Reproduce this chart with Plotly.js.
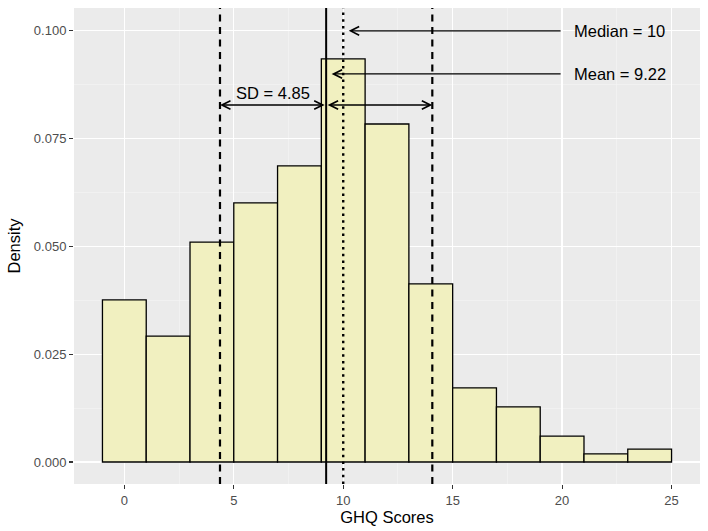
<!DOCTYPE html>
<html>
<head>
<meta charset="utf-8">
<script src="https://cdn.plot.ly/plotly-3.0.1.min.js"></script>
<style>html,body{margin:0;padding:0;background:#fff;}#chart{width:708px;height:531px;}</style>
</head>
<body>
<div id="chart"></div>
<script>
// Data
const binCenters = [0, 2, 4, 6, 8, 10, 12, 14, 16, 18, 20, 22, 24];
const densities  = [0.0376, 0.0292, 0.0510, 0.0601, 0.0687, 0.0935, 0.0784, 0.0413, 0.0172, 0.0128, 0.0060, 0.0019, 0.0030];
const binWidth = 2;
const meanVal = 9.22;
const sdVal = 4.85;
const medianVal = 10;
const xTicks = [0, 5, 10, 15, 20, 25];
const yTicks = [0, 0.025, 0.05, 0.075, 0.1];
const yTickLabels = ["0.000", "0.025", "0.050", "0.075", "0.100"];

const font = "Liberation Sans, Arial, sans-serif";

const trace = {
  type: "bar",
  x: binCenters,
  y: densities,
  width: binCenters.map(() => binWidth),
  marker: {color: "#F1F0C0", line: {color: "#000000", width: 1.3}},
  hoverinfo: "skip"
};

const vline = (x, dash, w) => ({
  type: "line", xref: "x", yref: "paper", x0: x, x1: x, y0: 0, y1: 1,
  line: {color: "#000", width: w, dash: dash}, layer: "above"
});

const shapes = [
  vline(meanVal, "solid", 2),
  vline(medianVal, "2.5px,4.2px", 2.4),
  vline(meanVal - sdVal, "7px,5.5px", 2.2),
  vline(meanVal + sdVal, "7px,5.5px", 2.2)
];

const arrowBase = {
  xref: "x", yref: "y", axref: "x", ayref: "y", text: "", showarrow: true,
  arrowhead: 5, arrowsize: 1.3, arrowwidth: 1.3, arrowcolor: "#000",
  standoff: 0, startstandoff: 0
};
const sdY = 0.0828;
const annotations = [
  Object.assign({}, arrowBase, {x: meanVal - sdVal, y: sdY, ax: meanVal, ay: sdY, arrowside: "end+start", startarrowhead: 5, startarrowsize: 1.3}),
  Object.assign({}, arrowBase, {x: meanVal + sdVal, y: sdY, ax: meanVal, ay: sdY, arrowside: "end+start", startarrowhead: 5, startarrowsize: 1.3}),
  Object.assign({}, arrowBase, {x: medianVal + 0.25, y: 0.1, ax: 20, ay: 0.1}),
  Object.assign({}, arrowBase, {x: meanVal + 0.25, y: 0.09, ax: 20, ay: 0.09}),
  {xref: "x", yref: "y", x: meanVal - sdVal / 2, y: 0.0856, text: "SD = " + sdVal.toFixed(2), showarrow: false,
   xanchor: "center", yanchor: "middle", font: {family: font, size: 16.5, color: "#000"}},
  {xref: "x", yref: "y", x: 20.45, y: 0.1, text: "Median = " + medianVal, showarrow: false,
   xanchor: "left", yanchor: "middle", font: {family: font, size: 16.5, color: "#000"}},
  {xref: "x", yref: "y", x: 20.45, y: 0.09, text: "Mean = " + meanVal.toFixed(2), showarrow: false,
   xanchor: "left", yanchor: "middle", font: {family: font, size: 16.5, color: "#000"}}
];

const layout = {
  width: 708, height: 531,
  margin: {l: 74, r: 8, t: 8, b: 47},
  paper_bgcolor: "#FFFFFF",
  plot_bgcolor: "#EBEBEB",
  showlegend: false,
  bargap: 0,
  font: {family: font},
  xaxis: {
    range: [-2.3, 26.3], tickvals: xTicks, ticktext: xTicks.map(String),
    ticks: "outside", ticklen: 4, tickwidth: 1.1, tickcolor: "#333333",
    tickfont: {family: font, size: 13, color: "#4D4D4D"},
    showgrid: true, gridcolor: "#FFFFFF", gridwidth: 1.2,
    minor: {tickvals: [2.5, 7.5, 12.5, 17.5, 22.5], showgrid: true, gridcolor: "#F5F5F5", gridwidth: 0.6, ticks: ""},
    zeroline: false, showline: false,
    title: {text: "GHQ Scores", font: {family: font, size: 16.5, color: "#000"}, standoff: 4}
  },
  yaxis: {
    range: [-0.0051, 0.1053], tickvals: yTicks, ticktext: yTickLabels,
    ticks: "outside", ticklen: 4, tickwidth: 1.1, tickcolor: "#333333",
    tickfont: {family: font, size: 13, color: "#4D4D4D"},
    showgrid: true, gridcolor: "#FFFFFF", gridwidth: 1.2,
    minor: {tickvals: [0.0125, 0.0375, 0.0625, 0.0875], showgrid: true, gridcolor: "#F5F5F5", gridwidth: 0.6, ticks: ""},
    zeroline: false, showline: false,
    title: {text: "Density", font: {family: font, size: 16.5, color: "#000"}, standoff: 9}
  },
  shapes: shapes,
  annotations: annotations
};

Plotly.newPlot("chart", [trace], layout, {displayModeBar: false, staticPlot: true});
</script>
</body>
</html>
